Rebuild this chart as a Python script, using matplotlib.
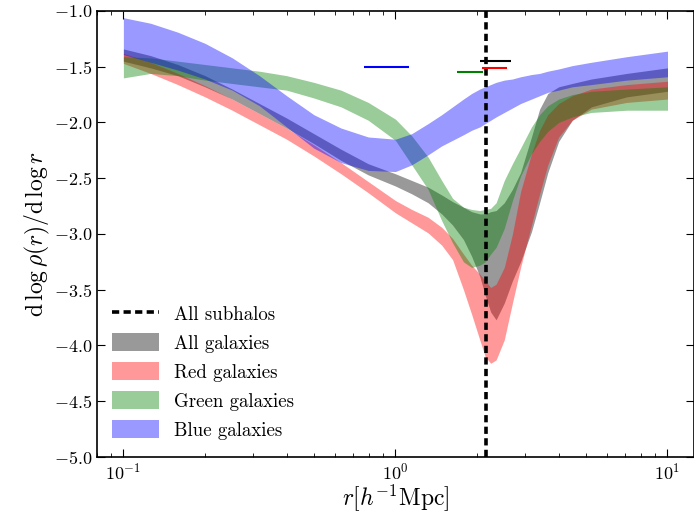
import numpy as np
import matplotlib
matplotlib.use("Agg")
import matplotlib.pyplot as plt

plt.rcParams['font.family'] = ['cmr10', 'DejaVu Serif']
plt.rcParams['mathtext.fontset'] = 'cm'
plt.rcParams['axes.formatter.use_mathtext'] = True
plt.rcParams['axes.unicode_minus'] = True

# log10(r) grid shared by all bands
logr = [-1.0, -0.9, -0.8, -0.7, -0.6, -0.5, -0.4, -0.3, -0.2, -0.1, 0.0,
        0.06, 0.12, 0.17, 0.21, 0.25, 0.28, 0.31, 0.33, 0.35, 0.37, 0.40,
        0.43, 0.46, 0.50, 0.53, 0.56, 0.60, 0.65, 0.72, 0.85, 1.0]

all_hi = [-1.34, -1.40, -1.48, -1.58, -1.70, -1.83, -1.96, -2.10, -2.24, -2.37, -2.46,
          -2.52, -2.58, -2.65, -2.71, -2.76, -2.80, -2.82, -2.82, -2.80, -2.79, -2.72,
          -2.60, -2.45, -2.13, -1.88, -1.74, -1.68, -1.65, -1.61, -1.56, -1.51]
all_lo = [-1.45, -1.51, -1.58, -1.68, -1.79, -1.92, -2.05, -2.19, -2.34, -2.47, -2.57,
          -2.64, -2.72, -2.82, -2.92, -3.05, -3.20, -3.38, -3.55, -3.70, -3.77, -3.62,
          -3.42, -3.25, -2.98, -2.72, -2.45, -2.17, -1.98, -1.86, -1.77, -1.72]

red_hi = [-1.38, -1.46, -1.56, -1.67, -1.79, -1.92, -2.05, -2.20, -2.36, -2.53, -2.70,
          -2.78, -2.85, -2.94, -3.04, -3.18, -3.28, -3.36, -3.42, -3.48, -3.45, -3.30,
          -3.00, -2.62, -2.28, -2.07, -1.93, -1.83, -1.76, -1.70, -1.66, -1.63]
red_lo = [-1.47, -1.56, -1.66, -1.77, -1.89, -2.02, -2.15, -2.30, -2.46, -2.63, -2.81,
          -2.90, -2.99, -3.10, -3.23, -3.50, -3.72, -3.95, -4.10, -4.16, -4.13, -3.95,
          -3.62, -3.30, -2.92, -2.64, -2.38, -2.13, -1.98, -1.88, -1.82, -1.79]

green_hi = [-1.41, -1.42, -1.45, -1.48, -1.51, -1.54, -1.58, -1.64, -1.71, -1.82, -1.97,
            -2.12, -2.31, -2.52, -2.68, -2.76, -2.78, -2.79, -2.78, -2.77, -2.72, -2.52,
            -2.37, -2.23, -2.04, -1.93, -1.85, -1.79, -1.75, -1.72, -1.70, -1.68]
green_lo = [-1.60, -1.56, -1.58, -1.62, -1.65, -1.68, -1.71, -1.78, -1.86, -1.98, -2.16,
            -2.38, -2.60, -2.88, -3.08, -3.25, -3.30, -3.28, -3.25, -3.18, -3.12, -2.95,
            -2.70, -2.48, -2.28, -2.17, -2.08, -2.00, -1.95, -1.91, -1.89, -1.89]

blue_hi = [-1.06, -1.11, -1.19, -1.29, -1.42, -1.58, -1.76, -1.93, -2.05, -2.13, -2.15,
           -2.10, -2.01, -1.93, -1.86, -1.79, -1.74, -1.70, -1.68, -1.66, -1.64, -1.62,
           -1.61, -1.59, -1.57, -1.56, -1.54, -1.52, -1.49, -1.46, -1.41, -1.36]
blue_lo = [-1.39, -1.46, -1.53, -1.61, -1.71, -1.85, -2.04, -2.23, -2.36, -2.43, -2.44,
           -2.38, -2.29, -2.21, -2.16, -2.11, -2.07, -2.04, -2.01, -1.98, -1.95, -1.91,
           -1.87, -1.83, -1.79, -1.76, -1.73, -1.71, -1.68, -1.66, -1.62, -1.59]

# splashback radius ranges (horizontal bars)
sp_colors = ['k', 'r', 'g', 'b']
sp_y = [-1.45, -1.51, -1.55, -1.50]
sp_rmin = [2.04, 2.08, 1.68, 0.764]
sp_rmax = [2.65, 2.56, 2.09, 1.125]
r_subhalos = 2.15

labels = ['All galaxies', 'Red galaxies', 'Green galaxies', 'Blue galaxies']

r = 10 ** np.array(logr)

fig = plt.figure(figsize=(6.94, 5.14), dpi=100)
ax = fig.add_axes([0.1398, 0.111, 0.86, 0.8676])

ax.axvline(r_subhalos, color='k', ls=(0, (2.0, 1.2)), lw=2.6, label='All subhalos')
bands = [(all_lo, all_hi), (red_lo, red_hi), (green_lo, green_hi), (blue_lo, blue_hi)]
for (lo, hi), c, lab in zip(bands, sp_colors, labels):
    ax.fill_between(r, lo, hi, color=c, alpha=0.4, lw=0, label=lab)

for c, y, a, b in zip(sp_colors, sp_y, sp_rmin, sp_rmax):
    ax.hlines(y, a, b, color=c, lw=1.5)

ax.set_xscale('log')
ax.set_xlim(0.08, 12.5)
ax.set_ylim(-5.0, -1.0)
ax.set_yticks(np.arange(-5.0, -0.99, 0.5))
ax.yaxis.set_major_formatter(matplotlib.ticker.FormatStrFormatter('$%.1f$'))
ax.tick_params(which='both', direction='in', top=True, right=True, labelsize=13)
ax.tick_params(which='major', length=6, width=0.8)
ax.tick_params(which='minor', length=3, width=0.6)
for s in ax.spines.values():
    s.set_linewidth(1.2)

ax.set_xlabel(r'$r[h^{-1}\mathrm{Mpc}]$', fontsize=17, labelpad=0)
ax.set_ylabel(r'$\mathrm{d}\,\log\rho(r)/\mathrm{d}\,\log r$', fontsize=17, labelpad=1)

ax.legend(loc='lower left', frameon=False, fontsize=13.6, handlelength=2.5,
          handleheight=1.1, labelspacing=0.5, borderaxespad=0.4,
          bbox_to_anchor=(0.0, 0.005))

fig.savefig('out.png', dpi=100)
